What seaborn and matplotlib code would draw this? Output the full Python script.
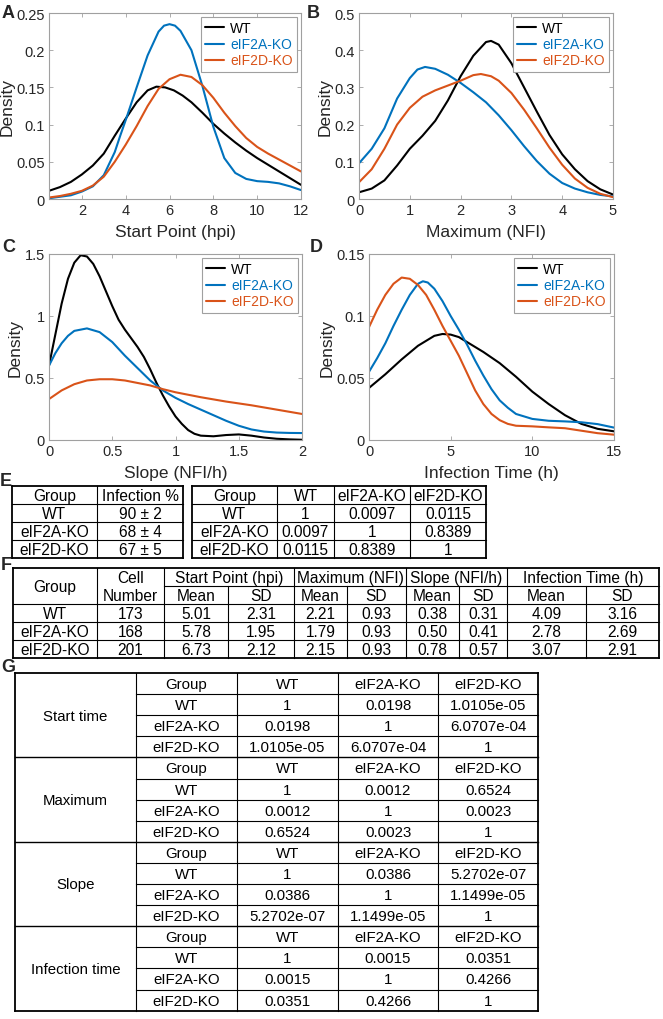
import numpy as np
import pandas as pd
import matplotlib
matplotlib.use('Agg')
import matplotlib.pyplot as plt
import seaborn as sns
from matplotlib.ticker import FuncFormatter

groups = ['WT', 'eIF2A-KO', 'eIF2D-KO']
colors = ['#000000', '#0072BD', '#D95319']

# A: start point (hpi)
a_x_wt = [0.5, 1, 1.5, 2, 2.5, 3, 3.5, 4, 4.5, 5, 5.4, 5.8, 6.2, 6.6, 7, 7.5, 8, 8.5, 9, 9.5, 10, 10.5, 11, 11.5, 12]
a_y_wt = [0.011, 0.016, 0.023, 0.033, 0.045, 0.061, 0.085, 0.108, 0.130, 0.146, 0.151, 0.150, 0.146, 0.139, 0.130,
          0.116, 0.101, 0.088, 0.076, 0.065, 0.055, 0.046, 0.037, 0.028, 0.019]
a_x_2a = [0.5, 1, 1.5, 2, 2.5, 3, 3.5, 3.75, 4, 4.5, 5, 5.5, 5.75, 6, 6.25, 6.5, 7, 7.5, 8, 8.5, 9, 9.5, 10, 10.5,
          11, 11.5, 12]
a_y_2a = [0.001, 0.003, 0.005, 0.010, 0.017, 0.032, 0.063, 0.085, 0.106, 0.150, 0.193, 0.225, 0.233, 0.235, 0.233,
          0.226, 0.200, 0.152, 0.097, 0.055, 0.035, 0.027, 0.024, 0.023, 0.021, 0.017, 0.012]
a_x_2d = [0.5, 1, 1.5, 2, 2.5, 3, 3.5, 4, 4.5, 5, 5.5, 6, 6.5, 7, 7.5, 8, 8.5, 9, 9.5, 10, 10.5, 11, 11.5, 12]
a_y_2d = [0.002, 0.004, 0.007, 0.011, 0.018, 0.030, 0.050, 0.073, 0.098, 0.125, 0.148, 0.161, 0.167, 0.164, 0.153,
          0.136, 0.116, 0.098, 0.082, 0.070, 0.061, 0.053, 0.045, 0.037]

# B: maximum (NFI)
b_x_wt = [0, 0.25, 0.5, 0.75, 1, 1.25, 1.5, 1.75, 2, 2.25, 2.5, 2.6, 2.75, 3, 3.25, 3.5, 3.75, 4, 4.25, 4.5, 4.75, 5]
b_y_wt = [0.018, 0.028, 0.050, 0.090, 0.135, 0.170, 0.210, 0.265, 0.330, 0.385, 0.422, 0.425, 0.415, 0.365, 0.300,
          0.235, 0.172, 0.120, 0.080, 0.048, 0.026, 0.012]
b_x_2a = [0, 0.25, 0.5, 0.75, 1, 1.15, 1.3, 1.5, 1.75, 2, 2.25, 2.5, 2.75, 3, 3.25, 3.5, 3.75, 4, 4.25, 4.5, 4.75, 5]
b_y_2a = [0.096, 0.135, 0.190, 0.270, 0.325, 0.348, 0.355, 0.350, 0.334, 0.312, 0.287, 0.260, 0.225, 0.185, 0.142,
          0.102, 0.068, 0.043, 0.028, 0.018, 0.011, 0.007]
b_x_2d = [0, 0.25, 0.5, 0.75, 1, 1.25, 1.5, 1.75, 2, 2.25, 2.4, 2.6, 2.75, 3, 3.25, 3.5, 3.75, 4, 4.25, 4.5, 4.75, 5]
b_y_2d = [0.045, 0.080, 0.135, 0.200, 0.245, 0.275, 0.292, 0.305, 0.318, 0.333, 0.336, 0.330, 0.318, 0.285, 0.240,
          0.190, 0.138, 0.092, 0.055, 0.030, 0.014, 0.005]

# C: slope (NFI/h)
c_x_wt = [0, 0.05, 0.1, 0.15, 0.2, 0.25, 0.3, 0.35, 0.4, 0.45, 0.5, 0.55, 0.6, 0.65, 0.7, 0.75, 0.8, 0.85, 0.9,
          0.95, 1, 1.05, 1.1, 1.15, 1.2, 1.3, 1.4, 1.5, 1.6, 1.7, 1.8, 1.9, 2]
c_y_wt = [0.60, 0.85, 1.10, 1.30, 1.43, 1.49, 1.48, 1.42, 1.32, 1.20, 1.08, 0.97, 0.89, 0.82, 0.75, 0.67, 0.57,
          0.46, 0.36, 0.27, 0.19, 0.13, 0.08, 0.05, 0.035, 0.03, 0.04, 0.045, 0.035, 0.02, 0.01, 0.005, 0.002]
c_x_2a = [0, 0.05, 0.1, 0.15, 0.2, 0.3, 0.4, 0.5, 0.6, 0.7, 0.8, 0.9, 1, 1.1, 1.2, 1.3, 1.4, 1.5, 1.6, 1.7, 1.8,
          1.9, 2]
c_y_2a = [0.60, 0.70, 0.78, 0.84, 0.88, 0.90, 0.87, 0.79, 0.68, 0.58, 0.48, 0.40, 0.34, 0.29, 0.245, 0.20, 0.155,
          0.115, 0.085, 0.068, 0.060, 0.057, 0.056]
c_x_2d = [0, 0.1, 0.2, 0.3, 0.4, 0.5, 0.6, 0.7, 0.8, 0.9, 1, 1.2, 1.4, 1.6, 1.8, 2]
c_y_2d = [0.33, 0.40, 0.45, 0.48, 0.49, 0.49, 0.48, 0.46, 0.44, 0.41, 0.385, 0.345, 0.31, 0.28, 0.245, 0.21]

# D: infection time (h)
d_x_wt = [0, 1, 2, 3, 4, 4.5, 5, 5.5, 6, 7, 8, 9, 10, 11, 12, 13, 14, 15]
d_y_wt = [0.042, 0.053, 0.065, 0.076, 0.084, 0.0855, 0.085, 0.083, 0.079, 0.071, 0.062, 0.051, 0.039, 0.029,
          0.020, 0.013, 0.009, 0.007]
d_x_2a = [0, 0.5, 1, 1.5, 2, 2.5, 3, 3.3, 3.6, 4, 4.5, 5, 5.5, 6, 6.5, 7, 7.5, 8, 8.5, 9, 10, 11, 12, 13, 14, 15]
d_y_2a = [0.055, 0.066, 0.078, 0.092, 0.105, 0.117, 0.126, 0.128, 0.127, 0.122, 0.112, 0.100, 0.089, 0.077, 0.064,
          0.052, 0.041, 0.032, 0.026, 0.021, 0.017, 0.0155, 0.015, 0.0143, 0.0128, 0.010]
d_x_2d = [0, 0.5, 1, 1.5, 2, 2.5, 3, 3.5, 4, 4.5, 5, 5.5, 6, 6.5, 7, 7.5, 8, 8.5, 9, 10, 11, 12, 13, 14, 15]
d_y_2d = [0.091, 0.105, 0.117, 0.126, 0.131, 0.130, 0.125, 0.117, 0.105, 0.092, 0.080, 0.068, 0.054, 0.040, 0.029,
          0.021, 0.016, 0.013, 0.0115, 0.011, 0.0102, 0.0095, 0.0075, 0.0055, 0.0043]

# E: infection rate and p-values
infection = ['90 ± 2', '68 ± 4', '67 ± 5']
infection_p = [['1', '0.0097', '0.0115'],
               ['0.0097', '1', '0.8389'],
               ['0.0115', '0.8389', '1']]

# F: summary statistics
measures = ['Start Point (hpi)', 'Maximum (NFI)', 'Slope (NFI/h)', 'Infection Time (h)']
cell_number = ['173', '168', '201']
stats = [['5.01', '2.31', '2.21', '0.93', '0.38', '0.31', '4.09', '3.16'],
         ['5.78', '1.95', '1.79', '0.93', '0.50', '0.41', '2.78', '2.69'],
         ['6.73', '2.12', '2.15', '0.93', '0.78', '0.57', '3.07', '2.91']]

# G: pairwise p-values per measure
sections = ['Start time', 'Maximum', 'Slope', 'Infection time']
p_start = [['1', '0.0198', '1.0105e-05'], ['0.0198', '1', '6.0707e-04'], ['1.0105e-05', '6.0707e-04', '1']]
p_max = [['1', '0.0012', '0.6524'], ['0.0012', '1', '0.0023'], ['0.6524', '0.0023', '1']]
p_slope = [['1', '0.0386', '5.2702e-07'], ['0.0386', '1', '1.1499e-05'], ['5.2702e-07', '1.1499e-05', '1']]
p_inf = [['1', '0.0015', '0.0351'], ['0.0015', '1', '0.4266'], ['0.0351', '0.4266', '1']]

sns.set_style('ticks')
plt.rcParams['font.family'] = ['Liberation Sans', 'DejaVu Sans']

W, H = 663, 1020
fig = plt.figure(figsize=(W / 100, H / 100), dpi=100)
gray = '#a0a0a0'
txt = '#262626'
fmt = FuncFormatter(lambda v, p: f'{v:g}')


def px_axes(x0, y0, x1, y1):
    return fig.add_axes([x0 / W, 1 - y1 / H, (x1 - x0) / W, (y1 - y0) / H])


def density_panel(ax, xs, ys, xlim, ylim, xticks, yticks, xlabel):
    frames = []
    for g, x, y in zip(groups, xs, ys):
        frames.append(pd.DataFrame({'x': x, 'y': y, 'group': g}))
    df = pd.concat(frames, ignore_index=True)
    sns.lineplot(data=df, x='x', y='y', hue='group', hue_order=groups, palette=colors,
                 estimator=None, sort=False, linewidth=1.5, ax=ax)
    ax.set_xlim(xlim)
    ax.set_ylim(ylim)
    ax.set_xticks(xticks)
    ax.set_yticks(yticks)
    ax.xaxis.set_major_formatter(fmt)
    ax.yaxis.set_major_formatter(fmt)
    ax.set_xlabel(xlabel, fontsize=12.5, color=txt, labelpad=5)
    ax.set_ylabel('Density', fontsize=12.5, color=txt, labelpad=1)
    for s in ax.spines.values():
        s.set_visible(True)
        s.set_color(gray)
        s.set_linewidth(0.8)
    ax.tick_params(direction='in', top=True, right=True, length=3, width=0.6, color=gray,
                   labelsize=10.5, labelcolor=txt, pad=3)
    h, l = ax.get_legend_handles_labels()
    leg = ax.legend(h, l, loc='upper right', fontsize=10, frameon=True, fancybox=False, edgecolor=gray,
                    framealpha=1, handlelength=1.4, handletextpad=0.4, borderpad=0.3, labelspacing=0.15,
                    borderaxespad=0.3)
    leg.get_frame().set_linewidth(0.8)
    for t, ln in zip(leg.get_texts(), leg.get_lines()):
        t.set_color(ln.get_color())


ax_a = px_axes(49, 14, 301, 200)
density_panel(ax_a, [a_x_wt, a_x_2a, a_x_2d], [a_y_wt, a_y_2a, a_y_2d], (0.5, 12), (0, 0.25),
              [2, 4, 6, 8, 10, 12], [0, 0.05, 0.1, 0.15, 0.2, 0.25], 'Start Point (hpi)')
ax_b = px_axes(359, 14, 613, 200)
density_panel(ax_b, [b_x_wt, b_x_2a, b_x_2d], [b_y_wt, b_y_2a, b_y_2d], (0, 5), (0, 0.5),
              [0, 1, 2, 3, 4, 5], [0, 0.1, 0.2, 0.3, 0.4, 0.5], 'Maximum (NFI)')
ax_c = px_axes(49, 255, 302, 441)
density_panel(ax_c, [c_x_wt, c_x_2a, c_x_2d], [c_y_wt, c_y_2a, c_y_2d], (0, 2), (0, 1.5),
              [0, 0.5, 1, 1.5, 2], [0, 0.5, 1, 1.5], 'Slope (NFI/h)')
ax_d = px_axes(369, 255, 614, 441)
density_panel(ax_d, [d_x_wt, d_x_2a, d_x_2d], [d_y_wt, d_y_2a, d_y_2d], (0, 15), (0, 0.15),
              [0, 5, 10, 15], [0, 0.05, 0.1, 0.15], 'Infection Time (h)')

for letter, x, y in [('A', 2, 13), ('B', 307, 13), ('C', 2, 248), ('D', 310, 248), ('E', 0, 482),
                     ('F', 1, 565), ('G', 1, 668)]:
    fig.text(x / W, 1 - y / H, letter, fontsize=13, weight='bold', va='center', ha='left')

# tables drawn in pixel coordinates
tab = fig.add_axes([0, 0, 1, 1])
tab.set_xlim(0, W)
tab.set_ylim(H, 0)
tab.axis('off')
lw_in, lw_out = 0.8, 1.3
tsize = 11.2


def hl(x0, x1, y, lw):
    tab.plot([x0, x1], [y, y], color='k', lw=lw, solid_capstyle='projecting')


def vl(x, y0, y1, lw):
    tab.plot([x, x], [y0, y1], color='k', lw=lw, solid_capstyle='projecting')


def put(x0, x1, y0, y1, s, size=tsize):
    tab.text((x0 + x1) / 2, (y0 + y1) / 2 + 0.5, s, ha='center', va='center', fontsize=size, color='k')


def simple_table(cols, rows, cells):
    for k, y in enumerate(rows):
        hl(cols[0], cols[-1], y, lw_out if k in (0, len(rows) - 1) else lw_in)
    for k, x in enumerate(cols):
        vl(x, rows[0], rows[-1], lw_out if k in (0, len(cols) - 1) else lw_in)
    for i, row in enumerate(cells):
        for j, s in enumerate(row):
            put(cols[j], cols[j + 1], rows[i], rows[i + 1], s)


e_rows = [487 + 18 * k for k in range(5)]
simple_table([12, 97, 183], e_rows,
             [['Group', 'Infection %']] + [[g, v] for g, v in zip(groups, infection)])
simple_table([192, 277, 334, 410, 486], e_rows,
             [['Group'] + groups] + [[g] + p for g, p in zip(groups, infection_p)])

# F
f_cols = [13, 97, 164, 228, 294, 347, 406, 459, 507, 586, 659]
f_rows = [569 + 18 * k for k in range(6)]
hl(f_cols[0], f_cols[-1], f_rows[0], lw_out)
hl(f_cols[2], f_cols[-1], f_rows[1], lw_in)
for y in f_rows[2:5]:
    hl(f_cols[0], f_cols[-1], y, lw_in)
hl(f_cols[0], f_cols[-1], f_rows[5], lw_out)
for k, x in enumerate(f_cols):
    if k in (0, len(f_cols) - 1):
        vl(x, f_rows[0], f_rows[-1], lw_out)
    elif k in (1, 2, 4, 6, 8):
        vl(x, f_rows[0], f_rows[-1], lw_in)
    else:
        vl(x, f_rows[1], f_rows[-1], lw_in)
put(f_cols[0], f_cols[1], f_rows[0], f_rows[2], 'Group')
put(f_cols[1], f_cols[2], f_rows[0], f_rows[1], 'Cell')
put(f_cols[1], f_cols[2], f_rows[1], f_rows[2], 'Number')
for m, name in enumerate(measures):
    c0 = 2 + 2 * m
    put(f_cols[c0], f_cols[c0 + 2], f_rows[0], f_rows[1], name)
    put(f_cols[c0], f_cols[c0 + 1], f_rows[1], f_rows[2], 'Mean')
    put(f_cols[c0 + 1], f_cols[c0 + 2], f_rows[1], f_rows[2], 'SD')
for i, g in enumerate(groups):
    row = [g, cell_number[i]] + stats[i]
    for j, s in enumerate(row):
        put(f_cols[j], f_cols[j + 1], f_rows[i + 2], f_rows[i + 3], s)

# G
g_cols = [15, 136, 237, 338, 438, 538]
g_rows = [674 + 21.1 * k for k in range(17)]
gsize = 10.8
for k, y in enumerate(g_rows):
    if k in (0, 16):
        hl(g_cols[0], g_cols[-1], y, lw_out)
    elif k % 4 == 0:
        hl(g_cols[0], g_cols[-1], y, 1.0)
    else:
        hl(g_cols[1], g_cols[-1], y, lw_in)
for k, x in enumerate(g_cols):
    vl(x, g_rows[0], g_rows[-1], lw_out if k in (0, len(g_cols) - 1) else lw_in)
for s_i, (name, mat) in enumerate(zip(sections, [p_start, p_max, p_slope, p_inf])):
    r0 = 4 * s_i
    put(g_cols[0], g_cols[1], g_rows[r0], g_rows[r0 + 4], name, gsize)
    block = [['Group'] + groups] + [[g] + p for g, p in zip(groups, mat)]
    for i, row in enumerate(block):
        for j, s in enumerate(row):
            put(g_cols[j + 1], g_cols[j + 2], g_rows[r0 + i], g_rows[r0 + i + 1], s, gsize)

fig.savefig('out.png', dpi=100)
